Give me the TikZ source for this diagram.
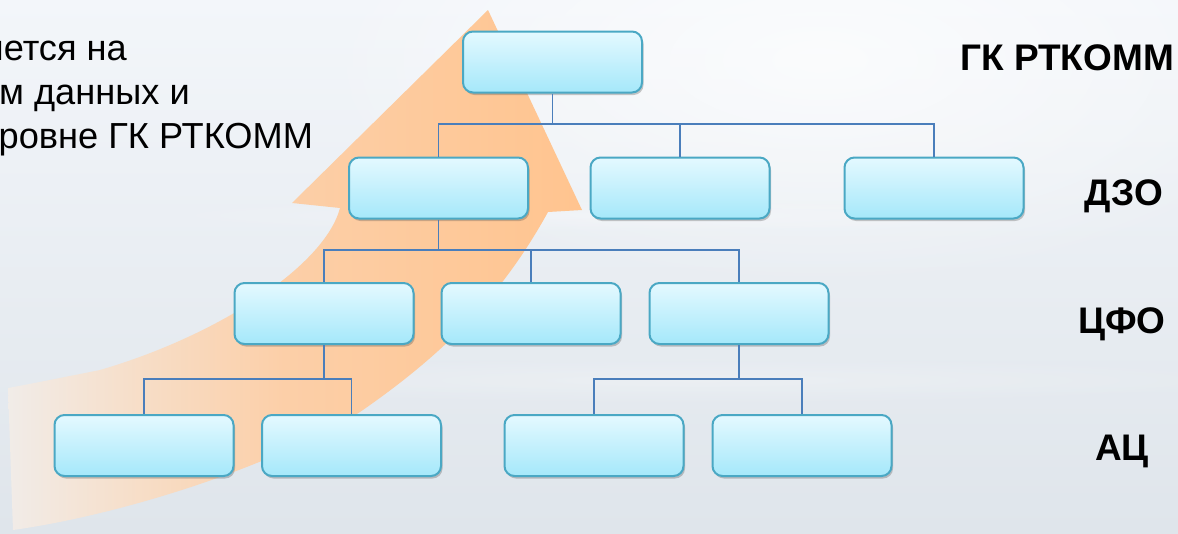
\documentclass[tikz,border=0pt]{standalone}
\usepackage{fontspec}
\setmainfont{Liberation Sans}
\usetikzlibrary{shadows,fadings}
\tikzfading[name=softglow, inner color=transparent!0, outer color=transparent!100]
\definecolor{bgtop}{HTML}{F3F6FA}
\definecolor{bgbot}{HTML}{DFE5EB}
\definecolor{boxtop}{HTML}{E4F9FF}
\definecolor{boxbot}{HTML}{A5E8FA}
\definecolor{boxline}{HTML}{4AA8C4}
\definecolor{connline}{HTML}{4A7EBB}
\definecolor{arrL}{HTML}{F1ECE8}
\definecolor{arrA}{HTML}{F7DDC6}
\definecolor{arrM}{HTML}{FCCFA8}
\definecolor{arrR}{HTML}{FFC48F}
\pgfdeclarehorizontalshading{arrowshade}{100bp}{color(0bp)=(arrL); color(25bp)=(arrL); color(37bp)=(arrA); color(49bp)=(arrM); color(75bp)=(arrR); color(100bp)=(arrR)}
\tikzset{
  orgbox/.style={draw=boxline, line width=2pt, rounded corners=10pt,
    top color=boxtop, bottom color=boxbot,
    minimum width=179pt, minimum height=61pt, inner sep=0pt,
    drop shadow={shadow xshift=1.5pt, shadow yshift=-2.5pt, opacity=0.3, fill=black!70}},
  conn/.style={draw=connline, line width=1.6pt},
  lefttext/.style={anchor=base west, inner sep=0pt, font=\fontsize{36.2}{43}\selectfont},
  levellabel/.style={anchor=base, inner sep=0pt, font=\fontsize{37}{44}\selectfont\bfseries},
}
\begin{document}
\begin{tikzpicture}[x=1pt, y=-1pt]
\useasboundingbox (0,0) rectangle (1178,533);
\clip (0,0) rectangle (1178,533);
% background
\fill[top color=bgtop, bottom color=bgbot] (0,0) rectangle (1178,533);
\fill[white, opacity=0.7, path fading=softglow] (820,60) ellipse (520 and 230);
\fill[white, opacity=0.25, path fading=softglow] (700,380) ellipse (600 and 25);
\fill[white, opacity=0.25, path fading=softglow] (600,215) ellipse (500 and 18);
% orange arrow
\shade[shading=arrowshade]
  (8,388) -- (13,530)
  .. controls (120,515) and (270,468) .. (360,412)
  .. controls (450,350) and (505,290) .. (548,212)
  -- (582,210) -- (488,10) -- (292,203) -- (340,208)
  .. controls (325,265) and (220,335) .. (100,370)
  .. controls (60,378) and (30,384) .. (8,388) -- cycle;
% left text
\node[lefttext] (t1) at (-16,60) {яется на};
\node[lefttext] (t2) at (-1,104) {м данных и};
\node[lefttext] (t3) at (-1.5,148) {ровне ГК РТКОММ};
% level labels
\node[levellabel, anchor=base west] (lab1) at (960,70) {ГК РТКОММ};
\node[levellabel] (lab2) at (1124,205) {ДЗО};
\node[levellabel] (lab3) at (1122,333) {ЦФО};
\node[levellabel] (lab4) at (1122,460) {АЦ};
% bus coordinates
\coordinate (bus1) at (0,124);
\coordinate (bus2) at (0,250);
\coordinate (bus3) at (0,379);
% boxes
\node[orgbox] (top) at (552.5,62) {};
\node[orgbox] (b21) at (438.5,188) {};
\node[orgbox] (b22) at (680,188) {};
\node[orgbox] (b23) at (934,188) {};
\node[orgbox] (b31) at (324,313.5) {};
\node[orgbox] (b32) at (531,313.5) {};
\node[orgbox] (b33) at (739,313.5) {};
\node[orgbox] (b41) at (144,445.5) {};
\node[orgbox] (b42) at (351.5,445.5) {};
\node[orgbox] (b43) at (594,445.5) {};
\node[orgbox] (b44) at (802,445.5) {};
% connectors
\draw[conn] (top.south) -- (top.south |- bus1) -| (b21.north);
\draw[conn] (top.south |- bus1) -| (b22.north);
\draw[conn] (top.south |- bus1) -| (b23.north);
\draw[conn] (b21.south) -- (b21.south |- bus2) -| (b31.north);
\draw[conn] (b21.south |- bus2) -| (b32.north);
\draw[conn] (b21.south |- bus2) -| (b33.north);
\draw[conn] (b31.south) -- (b31.south |- bus3) -| (b41.north);
\draw[conn] (b31.south |- bus3) -| (b42.north);
\draw[conn] (b33.south) -- (b33.south |- bus3) -| (b43.north);
\draw[conn] (b33.south |- bus3) -| (b44.north);
\end{tikzpicture}
\end{document}
